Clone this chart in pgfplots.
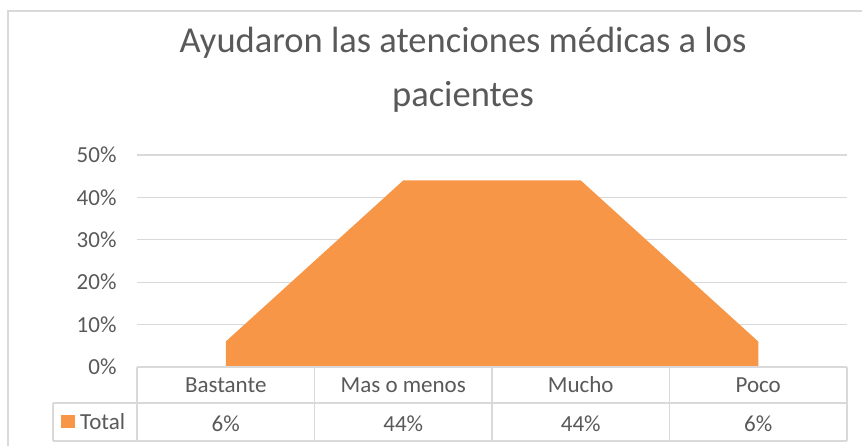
\documentclass[border=0pt]{standalone}
\usepackage{pgfplots}
\pgfplotsset{compat=1.18}
\usepackage{fontspec}
\setmainfont{Carlito}
\definecolor{orng}{HTML}{F79646}
\definecolor{txt}{HTML}{595959}
\definecolor{grd}{HTML}{D9D9D9}

\begin{document}
\begin{tikzpicture}[x=1pt,y=1pt]
\useasboundingbox (0,0) rectangle (862,446);
% chart border
\draw[grd, line width=1.3pt] (8,0)--(8,435)--(862,435);
% title
\node[txt, font=\fontsize{36.5}{42}\selectfont, anchor=base] at (463,393) {Ayudaron las atenciones médicas a los};
\node[txt, font=\fontsize{36.5}{42}\selectfont, anchor=base] at (463,339) {pacientes};

\begin{axis}[
  at={(137pt,79pt)}, anchor=south west,
  scale only axis, width=710pt, height=212pt,
  xmin=-0.5, xmax=3.5, ymin=0, ymax=0.5,
  axis line style={draw=none},
  ytick={0,0.1,0.2,0.3,0.4,0.5},
  yticklabels={0\%,10\%,20\%,30\%,40\%,50\%},
  ymajorgrids, grid style={grd, line width=1.3pt},
  major tick length=0pt,
  yticklabel style={txt, font=\fontsize{23}{28}\selectfont, anchor=east, xshift=-17pt},
  xtick={0,1,2,3},
  xticklabels={Bastante,Mas o menos,Mucho,Poco},
  xticklabel style={txt, font=\fontsize{23}{28}\selectfont, anchor=center, yshift=-18pt},
  extra x ticks={0,1,2,3},
  extra x tick labels={6\%,44\%,44\%,6\%},
  extra x tick style={grid=none, xticklabel style={yshift=-38.5pt}},
  clip=false,
]
\addplot[fill=orng, draw=none] coordinates {(0,0.06) (1,0.44) (2,0.44) (3,0.06)} \closedcycle;
\end{axis}

% data table
\begin{scope}[grd, line width=1.3pt]
\draw (137,79)--(847,79);
\draw (53,43)--(847,43);
\draw (53,5)--(847,5);
\draw (53,43)--(53,5);
\foreach \x in {137,314.5,492,669.5,847} \draw (\x,79)--(\x,5);
\end{scope}
\fill[orng] (61,18) rectangle (75,31);
\node[txt, font=\fontsize{23}{28}\selectfont, anchor=west, inner sep=0pt] at (80,24) {Total};
\end{tikzpicture}
\end{document}
